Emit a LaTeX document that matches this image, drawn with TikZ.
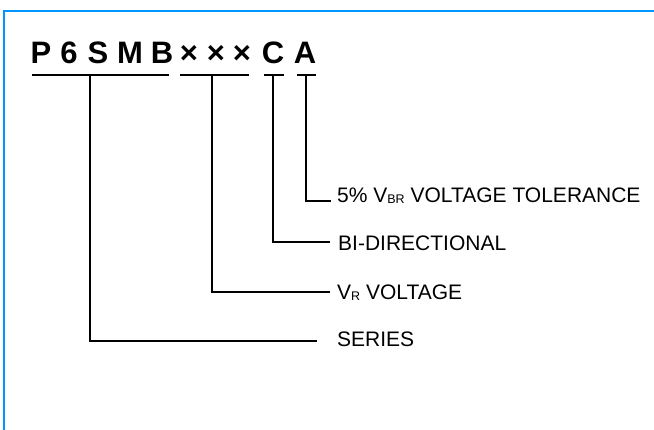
\documentclass[tikz,border=0pt]{standalone}
\usepackage{fontspec}
\setmainfont{Liberation Sans}
\definecolor{framblue}{RGB}{0,150,255}
\begin{document}
\begin{tikzpicture}[x=1pt,y=1pt,
  ttl/.style={anchor=base,inner sep=0pt,font=\fontsize{31}{31}\selectfont\bfseries},
  lbl/.style={anchor=base west,inner sep=0pt,font=\fontsize{21}{21}\selectfont},
  wire/.style={line width=1.6pt,line cap=butt}]
\useasboundingbox (0,0) rectangle (654,-429);
\draw[framblue,line width=2.2pt] (4,-430) -- (4,-11) -- (655,-11);
% title letters
\node[ttl] (tP) at (41,-63) {P};
\node[ttl] (t6) at (69,-63) {6};
\node[ttl] (tS) at (98,-63) {S};
\node[ttl] (tM) at (130,-63) {M};
\node[ttl] (tB) at (162,-63) {B};
\node[ttl] (tx1) at (189,-63) {×};
\node[ttl] (tx2) at (216,-63) {×};
\node[ttl] (tx3) at (242,-63) {×};
\node[ttl] (tC) at (273,-63) {C};
\node[ttl] (tA) at (305,-63) {A};
% underline segments
\coordinate (s1a) at (32,-75); \coordinate (s1b) at (169,-75);
\coordinate (s2a) at (180,-75); \coordinate (s2b) at (249,-75);
\coordinate (s3a) at (264,-75); \coordinate (s3b) at (284,-75);
\coordinate (s4a) at (297,-75); \coordinate (s4b) at (316,-75);
\draw[wire] (s1a) -- (s1b);
\draw[wire] (s2a) -- (s2b);
\draw[wire] (s3a) -- (s3b);
\draw[wire] (s4a) -- (s4b);
% labels
\node[lbl] (tol) at (337,-202) {5\% V\raisebox{-1pt}{\fontsize{12.5}{12.5}\selectfont BR} VOLTAGE TOLERANCE};
\node[lbl] (bid) at (338,-250) {BI-DIRECTIONAL};
\node[lbl] (vr) at (337,-299) {V\raisebox{-1pt}{\fontsize{12.5}{12.5}\selectfont R} VOLTAGE};
\node[lbl] (ser) at (337,-346) {SERIES};
% connector ends
\coordinate (e4) at (331,-201);
\coordinate (e3) at (330,-242);
\coordinate (e2) at (330,-292);
\coordinate (e1) at (317,-341);
\draw[wire] (306,-75) |- (e4);
\draw[wire] (273,-75) |- (e3);
\draw[wire] (212,-75) |- (e2);
\draw[wire] (90,-75) |- (e1);
\end{tikzpicture}
\end{document}
